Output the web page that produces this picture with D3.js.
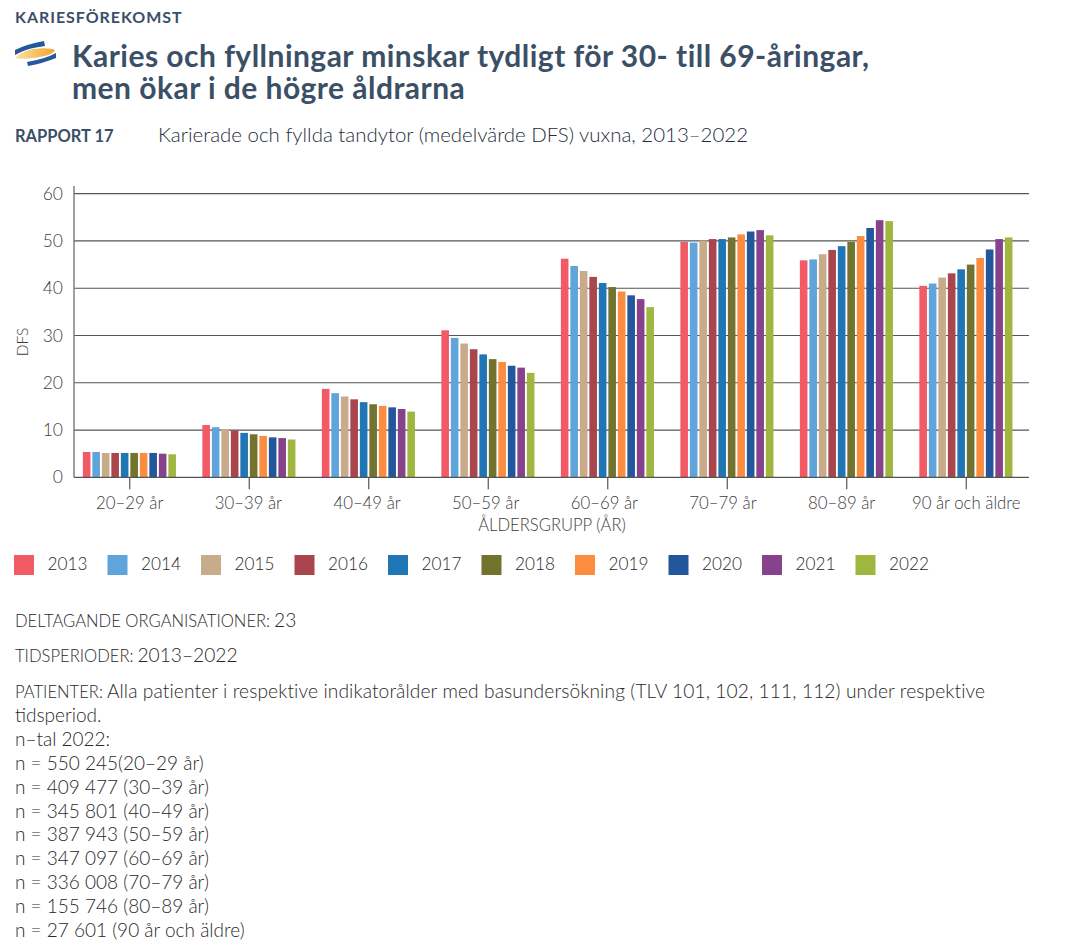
<!DOCTYPE html>
<html lang="sv"><head><meta charset="utf-8">
<script src="https://cdn.jsdelivr.net/npm/d3@7"></script>
<style>
html,body{margin:0;padding:0;background:#fff;overflow:hidden}
svg{display:block}
text{font-family:Lato,"Open Sans",sans-serif}
</style></head><body>
<svg id="c" width="1069" height="942"></svg>
<script>
const ageGroups=["20–29 år","30–39 år","40–49 år","50–59 år","60–69 år","70–79 år","80–89 år","90 år och äldre"];
const years=["2013","2014","2015","2016","2017","2018","2019","2020","2021","2022"];
const colors=["#f25a66","#5fa4db","#c7ab8a","#a9464d","#2076b5","#71732e","#fc8c40","#23579c","#86438b","#9fb640"];
const age20=[5.35,5.35,5.15,5.15,5.15,5.15,5.15,5.15,5.0,4.87];
const age30=[11.07,10.6,10.15,9.9,9.4,9.1,8.75,8.45,8.3,8.0];
const age40=[18.7,17.8,17.1,16.5,15.9,15.45,15.1,14.8,14.45,13.9];
const age50=[31.1,29.5,28.3,27.1,26.0,25.0,24.4,23.6,23.2,22.1];
const age60=[46.25,44.7,43.65,42.4,41.1,40.25,39.3,38.5,37.7,36.0];
const age70=[49.8,49.65,50.1,50.4,50.4,50.75,51.4,52.0,52.3,51.2];
const age80=[45.9,46.1,47.2,48.1,48.9,49.8,51.05,52.75,54.4,54.2];
const age90=[40.5,41.0,42.25,43.15,44.0,45.0,46.4,48.2,50.4,50.75];
const yTicks=[0,10,20,30,40,50,60];
const infoLines=["n–tal 2022:","n = 550 245(20–29 år)","n = 409 477 (30–39 år)","n = 345 801 (40–49 år)","n = 387 943 (50–59 år)","n = 347 097 (60–69 år)","n = 336 008 (70–79 år)","n = 155 746 (80–89 år)","n = 27 601 (90 år och äldre)"];
const series=[age20,age30,age40,age50,age60,age70,age80,age90];

const svg=d3.select("#c");
const dark="#3b4f66", ink="#3d3d3d", grey="#555";
const addText=(x,y,s,o={})=>svg.append("text").attr("x",x).attr("y",y).text(s)
  .attr("font-size",o.size||19).attr("font-weight",o.weight||300).attr("fill",o.fill||"#2a2a2a")
  .attr("letter-spacing",o.ls||0).attr("text-anchor",o.anchor||"start");

// header
addText(15,23,"KARIESFÖREKOMST",{size:16,weight:700,fill:dark,ls:0.95});
addText(72,67,"Karies och fyllningar minskar tydligt för 30- till 69-åringar,",{size:30,weight:700,fill:dark,ls:0.47});
addText(72,99,"men ökar i de högre åldrarna",{size:30,weight:700,fill:dark,ls:0.47});
addText(15,142,"RAPPORT 17",{size:16.5,weight:700,fill:dark});
addText(158,142,"Karierade och fyllda tandytor (medelvärde DFS) vuxna, 2013–2022",{size:20.45,weight:300,fill:"#1f2d3d"});

// logo
const defs=svg.append("defs");
const g=defs.append("linearGradient").attr("id","gold");
g.append("stop").attr("offset","0").attr("stop-color","#fde2a0");
g.append("stop").attr("offset","1").attr("stop-color","#eea52c");
svg.append("path").attr("d","M15 50 Q27 44 44 41 L45 46 Q29 48 21 52 L15 55Z").attr("fill","#25589c");
svg.append("path").attr("d","M15 58 Q20 52 33 49 Q48 47 55 50 Q53 55 40 57 Q25 60 15 58Z").attr("fill","url(#gold)");
svg.append("path").attr("d","M27 62 Q45 59 56 53 L56 58 Q44 63 28 66Z").attr("fill","#25589c");

// scales
const x=d3.scaleBand().domain(ageGroups).range([70,1026]);
const xIn=d3.scaleBand().domain(years).range([0,93.1]).paddingInner(0.2);
const y=d3.scaleLinear().domain([0,60]).range([477.3,193.7]);

// grid
svg.append("g").selectAll("line").data(yTicks.slice(1)).join("line")
  .attr("x1",74).attr("x2",1029).attr("y1",d=>y(d)).attr("y2",d=>y(d))
  .attr("stroke",grey).attr("stroke-width",1.2);

// bars
const groups=svg.append("g").selectAll("g").data(series).join("g")
  .attr("transform",(d,i)=>`translate(${x(ageGroups[i])+x.bandwidth()/2-46.9},0)`);
groups.selectAll("rect").data(d=>d).join("rect")
  .attr("x",(d,i)=>xIn(years[i])).attr("width",xIn.bandwidth())
  .attr("y",d=>y(d)).attr("height",d=>y(0)-y(d))
  .attr("fill",(d,i)=>colors[i]);

// axes
const ax=svg.append("g").attr("transform",`translate(0,${y(0)})`)
  .call(d3.axisBottom(x).tickSize(12).tickPadding(8));
ax.select(".domain").remove();
ax.selectAll("line").attr("stroke",grey).attr("stroke-width",1.2);
ax.selectAll("text").attr("font-size",16.8).attr("font-weight",300).attr("fill",ink).attr("font-family","Lato")
  .attr("dx",(d,i)=>i<7?-i*0.85:0);
svg.append("line").attr("x1",74).attr("x2",1029).attr("y1",y(0)).attr("y2",y(0)).attr("stroke",grey).attr("stroke-width",1.2);

const ay=svg.append("g").attr("transform","translate(74,0)")
  .call(d3.axisLeft(y).tickValues(yTicks).tickSize(0).tickPadding(11));
ay.select(".domain").attr("stroke","#777").attr("stroke-width",1.4).attr("d",`M0,${y(0)}V186`);
ay.selectAll("text").attr("font-size",17.5).attr("font-weight",300).attr("fill",ink).attr("font-family","Lato");

svg.append("text").attr("transform",`translate(27.5,342) rotate(-90)`).attr("text-anchor","middle")
  .attr("font-size",15.5).attr("font-weight",300).attr("fill",ink).text("DFS");
addText(552,531,"ÅLDERSGRUPP (ÅR)",{size:16.6,anchor:"middle",fill:ink});

// legend
const legendStep=93.5;
const leg=svg.append("g").selectAll("g").data(years).join("g")
  .attr("transform",(d,i)=>`translate(${14+i*legendStep},555)`);
leg.append("rect").attr("width",20).attr("height",20).attr("fill",(d,i)=>colors[i]);
leg.append("text").attr("x",33.5).attr("y",15).attr("font-size",17.2).attr("font-weight",300).attr("fill","#2a2a2a").text(d=>d);

// info text
const label=(yy,lab,val,ls)=>{
  const t=addText(15,yy,"");
  t.append("tspan").attr("font-size",16.6).text(lab);
  t.append("tspan").attr("dx",4).attr("font-size",19.2).attr("letter-spacing",ls||0).text(val);
};
label(627,"DELTAGANDE ORGANISATIONER:","23");
label(662,"TIDSPERIODER:","2013–2022");
label(698,"PATIENTER:","Alla patienter i respektive indikatorålder med basundersökning (TLV 101, 102, 111, 112) under respektive",0.1);
addText(15,722,"tidsperiod.");
infoLines.forEach((s,i)=>addText(15,746+i*23.85,s));
</script>
</body></html>
